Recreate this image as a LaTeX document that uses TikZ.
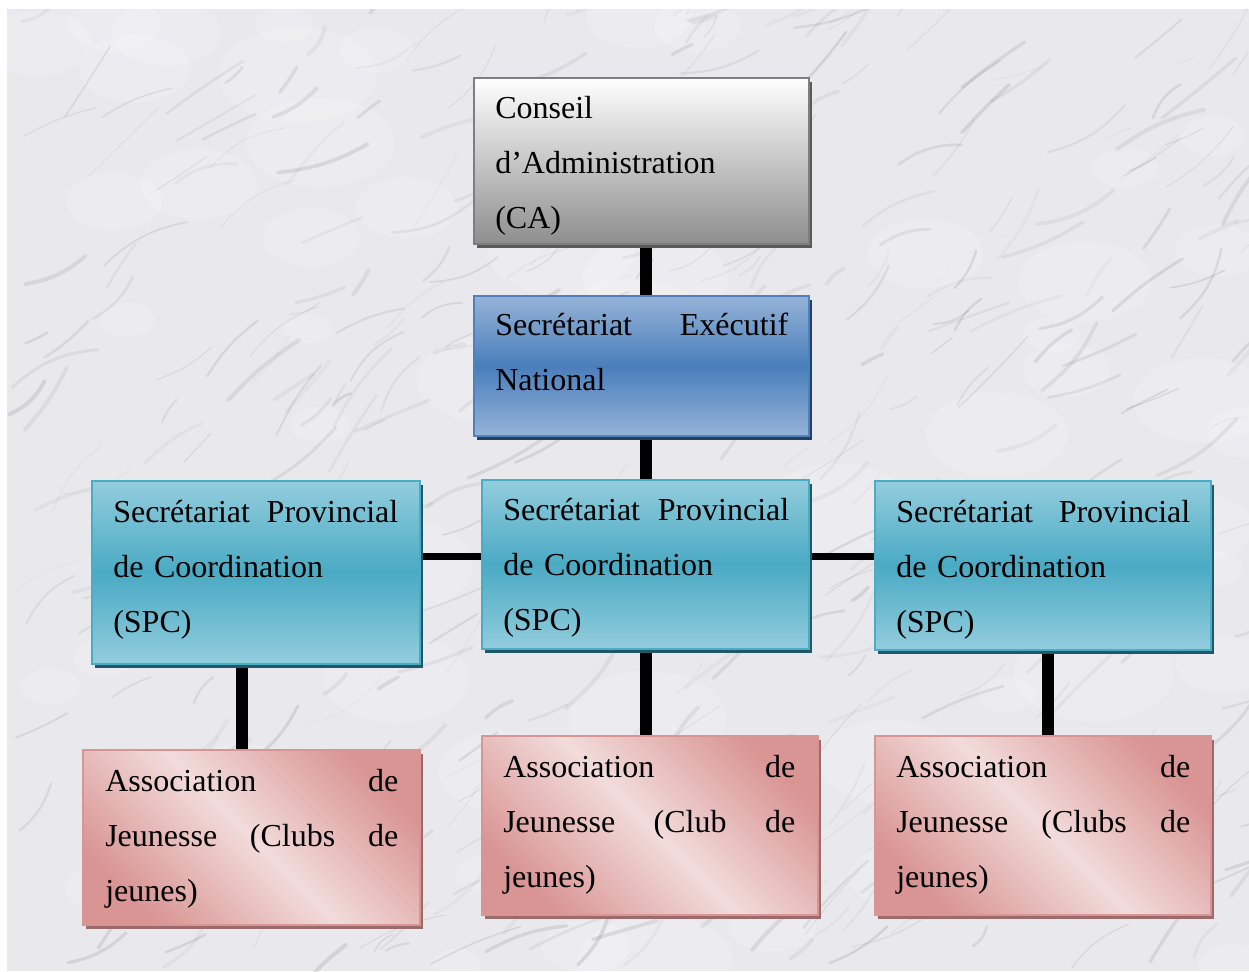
\documentclass[tikz,border=0pt]{standalone}
\usepackage{fontspec}
\setmainfont{Liberation Serif}
\usetikzlibrary{fit,shadows,calc}
\pgfdeclarelayer{marble}
\pgfdeclarelayer{links}
\pgfsetlayers{marble,links,main}
\definecolor{marblebase}{HTML}{E9E9ED}
\definecolor{veincol}{HTML}{70707A}
\definecolor{caborder}{HTML}{7F7F7F}
\definecolor{cabot}{HTML}{8E8E8E}
\definecolor{cashadow}{HTML}{5A5A5A}
\definecolor{senborder}{HTML}{4F81BD}
\definecolor{senlight}{HTML}{95B3D7}
\definecolor{senmid}{HTML}{4A7EBB}
\definecolor{senshadow}{HTML}{243F60}
\definecolor{spcborder}{HTML}{4BACC6}
\definecolor{spclight}{HTML}{93CDDD}
\definecolor{spcmid}{HTML}{4AAAC4}
\definecolor{spcshadow}{HTML}{215868}
\definecolor{asborder}{HTML}{D99594}
\definecolor{asdark}{HTML}{D99594}
\definecolor{aslight}{HTML}{F2DCDB}
\definecolor{asshadow}{HTML}{9B6B6B}
\begin{document}
\begin{tikzpicture}[x=0.75pt,y=-0.75pt,
  box/.style={inner sep=0pt, line width=1.5pt},
  shad/.style={drop shadow={shadow xshift=2.5pt, shadow yshift=-3pt, fill=#1, opacity=1}},
  cabox/.style={box, draw=caborder, top color=white, bottom color=cabot, shad=cashadow},
  senbox/.style={box, draw=senborder, top color=senlight, bottom color=senlight, middle color=senmid, shad=senshadow},
  spcbox/.style={box, draw=spcborder, top color=spclight, bottom color=spclight, middle color=spcmid, shad=spcshadow},
  asbox/.style={box, draw=asborder, left color=asdark, right color=asdark, middle color=aslight, shading angle=-45, shad=asshadow},
  boxtext/.style={anchor=base west, inner sep=0pt, align=left, text width=#1, font=\fontsize{24pt}{41.25pt}\selectfont},
  vlink/.style={line width=9pt},
  hlink/.style={line width=5.25pt},
  vein/.style={draw=veincol, line cap=round}]
\useasboundingbox (0,0) rectangle (1249,971);

% marble background
\begin{pgfonlayer}{marble}
\fill[marblebase] (7,9) rectangle (1249,971);
\begin{scope}
\clip (7,9) rectangle (1249,971);
\pgfmathsetseed{42}
\foreach \i in {1,...,70}{
  \pgfmathsetmacro\xa{7+rnd*1250}
  \pgfmathsetmacro\ya{9+rnd*970}
  \pgfmathsetmacro\ra{20+rnd*60}
  \fill[white, opacity=0.18] (\xa,\ya) ellipse ({\ra} and {\ra*0.6});
}
\foreach \i in {1,...,420}{
  \pgfmathsetmacro\xa{7+rnd*1250}
  \pgfmathsetmacro\ya{9+rnd*970}
  \pgfmathsetmacro\an{-15-rnd*45}
  \pgfmathsetmacro\ln{20+rnd*80}
  \pgfmathsetmacro\wd{0.4+rnd*2.6}
  \pgfmathsetmacro\op{0.05+rnd*0.14}
  \pgfmathsetmacro\bd{-20+rnd*40}
  \draw[vein, line width=\wd pt, opacity=\op] (\xa,\ya) to[bend left=\bd] ++(\an:\ln);
}
\end{scope}
\end{pgfonlayer}

% boxes
\node[cabox, fit={(474,78) (809,244)}] (ca) {};
\node[senbox, fit={(474,296) (809,436)}] (sen) {};
\node[spcbox, fit={(92,481) (420,664)}] (spcL) {};
\node[spcbox, fit={(482,480) (809,649)}] (spcM) {};
\node[spcbox, fit={(875,481) (1211,650)}] (spcR) {};
\node[asbox, fit={(83,750) (420,925)}] (asL) {};
\node[asbox, fit={(482,736) (818,915)}] (asM) {};
\node[asbox, fit={(875,736) (1211,915)}] (asR) {};

% texts
\node[boxtext=219.75pt] (caT) at (495,118) {Conseil\\d’Administration\\(CA)};
\node[boxtext=219.75pt] (senT) at (495,335) {Secrétariat\hfill Exécutif\\National};
\node[boxtext=213.75pt] (spcLT) at (113,522) {Secrétariat\hfill Provincial\\de Coordination\\(SPC)};
\node[boxtext=214.5pt] (spcMT) at (503,520) {Secrétariat\hfill Provincial\\de Coordination\\(SPC)};
\node[boxtext=220.5pt] (spcRT) at (896,522) {Secrétariat\hfill Provincial\\de Coordination\\(SPC)};
\node[boxtext=219.75pt] (asLT) at (105,791) {Association\hfill de\\Jeunesse\hfill (Clubs\hfill de\\jeunes)};
\node[boxtext=219pt] (asMT) at (503,777) {Association\hfill de\\Jeunesse\hfill (Club\hfill de\\jeunes)};
\node[boxtext=220.5pt] (asRT) at (896,777) {Association\hfill de\\Jeunesse\hfill (Clubs\hfill de\\jeunes)};

% connectors
\coordinate (xm) at (646,0);
\coordinate (xl) at (242,0);
\coordinate (xr) at (1048,0);
\coordinate (yh) at (0,556);
\begin{pgfonlayer}{links}
\draw[vlink] (ca.south -| xm) -- (sen.north -| xm);
\draw[vlink] (sen.south -| xm) -- (spcM.north -| xm);
\draw[hlink] (spcL.east |- yh) -- (spcM.west |- yh);
\draw[hlink] (spcM.east |- yh) -- (spcR.west |- yh);
\draw[vlink] (spcL.south -| xl) -- (asL.north -| xl);
\draw[vlink] (spcM.south -| xm) -- (asM.north -| xm);
\draw[vlink] (spcR.south -| xr) -- (asR.north -| xr);
\end{pgfonlayer}
\end{tikzpicture}
\end{document}
